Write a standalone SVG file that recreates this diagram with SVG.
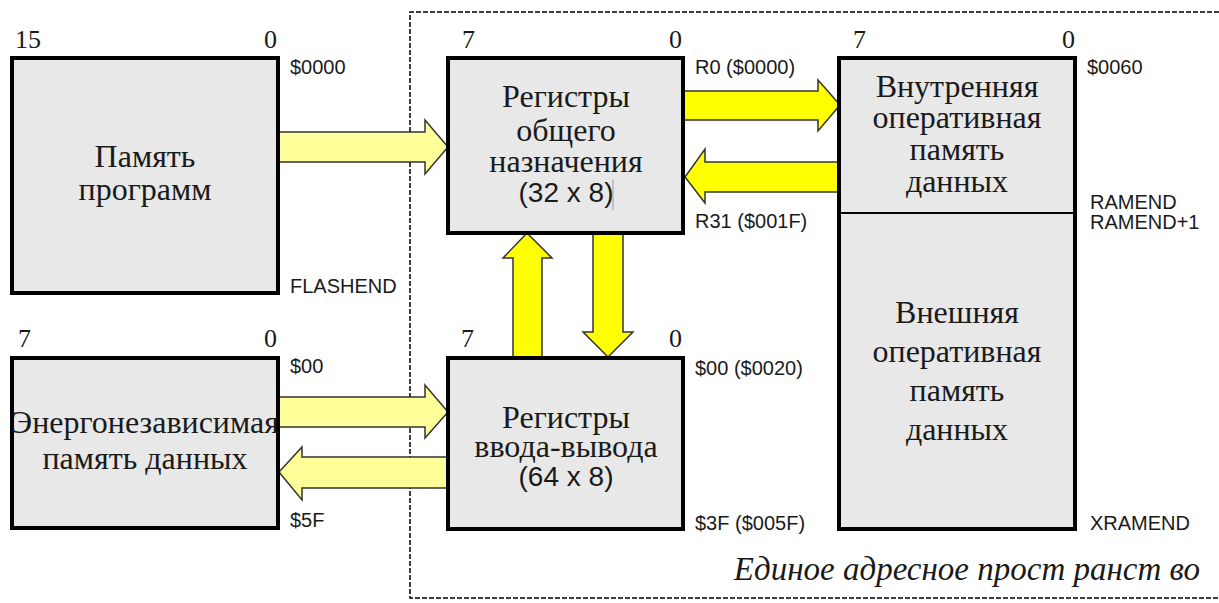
<svg xmlns="http://www.w3.org/2000/svg" width="1219" height="603" viewBox="0 0 1219 603">
<style>
.box{fill:#e8e8e8;stroke:#000;stroke-width:4}
.t{font-family:"Liberation Serif","Times New Roman",serif;font-size:32px;fill:#1a1a1a;text-anchor:middle}
.ts{font-family:"Liberation Sans",Arial,sans-serif;font-size:28px;fill:#1a1a1a;text-anchor:middle}
.n{font-family:"Liberation Serif","Times New Roman",serif;font-size:26px;fill:#1a1a1a}
.a{font-family:"Liberation Sans",Arial,sans-serif;font-size:20px;fill:#1a1a1a}
.pale{fill:#ffff99;stroke:#333;stroke-width:1.5}
.bright{fill:#ffff00;stroke:#333;stroke-width:1.5}
.dash{fill:none;stroke:#000;stroke-width:1.5;stroke-dasharray:5 2}
</style>
<rect width="1219" height="603" fill="#fff"/>
<g id="address-space">
<path class="dash" d="M1219 12 H410 V598 H1219"/>
<text x="1200" y="580" font-family="Liberation Serif,Times New Roman,serif" font-size="33" font-style="italic" text-anchor="end" fill="#1a1a1a">Единое адресное прост ранст во</text>
</g>
<g id="connectors">
<polygon class="pale" points="278,132 425,132 425,120 448,147 425,174 425,162 278,162"/>
<polygon class="bright" points="683,91 818,91 818,80 840,105 818,131 818,120 683,120"/>
<polygon class="bright" points="839,162 705,162 705,149 685,177 705,203 705,192 839,192"/>
<polygon class="bright" points="513,358 513,258 503,258 527,233 552,258 542,258 542,358"/>
<polygon class="bright" points="593,233 593,332 583,332 608,357 633,332 623,332 623,233"/>
<polygon class="pale" points="278,397 425,397 425,385 448,412 425,438 425,427 278,427"/>
<polygon class="pale" points="448,457 302,457 302,447 279,472 302,500 302,488 448,488"/>
</g>
<g id="program-memory">
<rect class="box" x="12" y="58" width="266" height="235"/>
<text class="n" x="15" y="48">15</text>
<text class="n" x="277" y="48" text-anchor="end">0</text>
<text class="a" x="290" y="74">$0000</text>
<text class="a" x="290" y="293">FLASHEND</text>
<text class="t" x="145" y="167">Память</text>
<text class="t" x="145" y="200">программ</text>
</g>
<g id="eeprom">
<rect class="box" x="12" y="358" width="266" height="170"/>
<text class="n" x="18" y="347">7</text>
<text class="n" x="277" y="347" text-anchor="end">0</text>
<text class="a" x="290" y="373">$00</text>
<text class="a" x="290" y="527">$5F</text>
<text class="t" x="145" y="433">Энергонезависимая</text>
<text class="t" x="145" y="469">память данных</text>
</g>
<g id="gpr">
<rect class="box" x="448" y="58" width="235" height="175"/>
<text class="n" x="462" y="48">7</text>
<text class="n" x="682" y="48" text-anchor="end">0</text>
<text class="a" x="695" y="74">R0 ($0000)</text>
<text class="a" x="695" y="228">R31 ($001F)</text>
<text class="t" x="566" y="107">Регистры</text>
<text class="t" x="566" y="141">общего</text>
<text class="t" x="566" y="172">назначения</text>
<text class="ts" x="566" y="202">(32 x 8)</text>
<line x1="613" y1="180" x2="613" y2="210" stroke="#999" stroke-width="1"/>
</g>
<g id="io">
<rect class="box" x="448" y="358" width="235" height="171"/>
<text class="n" x="461" y="347">7</text>
<text class="n" x="682" y="347" text-anchor="end">0</text>
<text class="a" x="695" y="375">$00 ($0020)</text>
<text class="a" x="695" y="530">$3F ($005F)</text>
<text class="t" x="566" y="428" font-size="31">Регистры</text>
<text class="t" x="566" y="457" font-size="31">ввода-вывода</text>
<text class="ts" x="566" y="486">(64 x 8)</text>
</g>
<g id="sram">
<rect class="box" x="839" y="58" width="236" height="471"/>
<line x1="839" y1="213" x2="1075" y2="213" stroke="#000" stroke-width="2"/>
<text class="n" x="853" y="48">7</text>
<text class="n" x="1075" y="48" text-anchor="end">0</text>
<text class="a" x="1087" y="74">$0060</text>
<text class="a" x="1090" y="209" font-size="19">RAMEND</text>
<text class="a" x="1090" y="229" font-size="19">RAMEND+1</text>
<text class="a" x="1090" y="530">XRAMEND</text>
<text class="t" x="957" y="97">Внутренняя</text>
<text class="t" x="957" y="128">оперативная</text>
<text class="t" x="957" y="160">память</text>
<text class="t" x="957" y="192">данных</text>
<text class="t" x="957" y="323">Внешняя</text>
<text class="t" x="957" y="362">оперативная</text>
<text class="t" x="957" y="401">память</text>
<text class="t" x="957" y="440">данных</text>
</g>
</svg>
